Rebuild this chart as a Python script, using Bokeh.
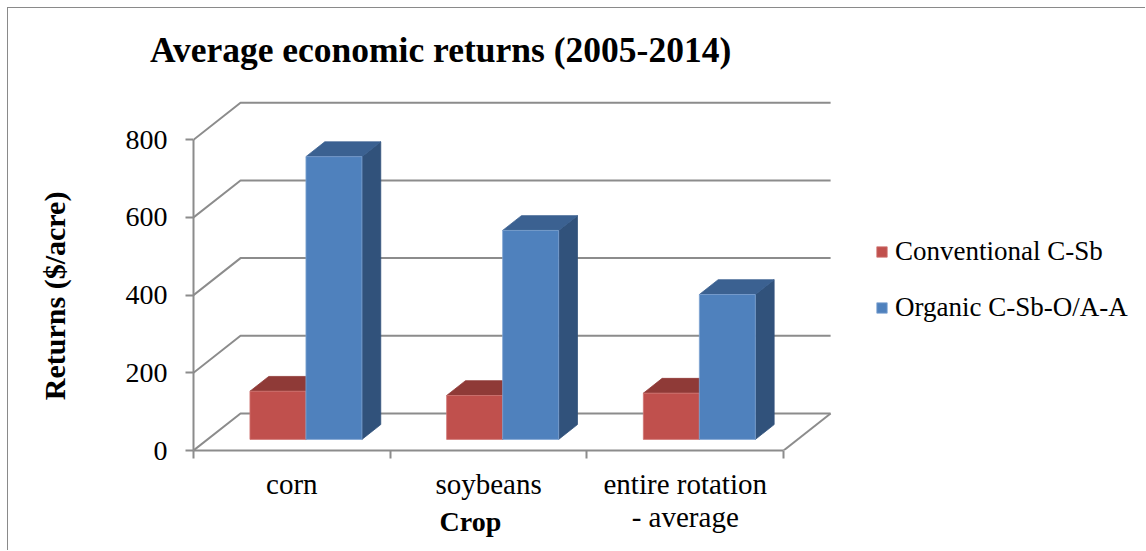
from bokeh.plotting import figure
from bokeh.models import Range1d, LinearAxis, FixedTicker, Legend, LegendItem
from bokeh.embed import file_html
from bokeh.resources import INLINE

# ---------------- data ----------------
categories = ["corn", "soybeans", "entire rotation\n- average"]
series_names = ["Conventional C-Sb", "Organic C-Sb-O/A-A"]
conventional = [124, 113, 119]
organic = [728, 538, 373]
y_ticks = [0, 200, 400, 600, 800]
title_text = "Average economic returns (2005-2014)"
y_title = "Returns ($/acre)"
x_title = "Crop"

# ---------------- style ----------------
FONT = "Liberation Serif"
GRID = "#8c8c8c"
FRONT = ["#c0504d", "#4f81bd"]
TOP = ["#8f3a37", "#3b6191"]
SIDE = ["#7d302e", "#31527b"]
EDGE = ["#d07673", "#7fa3d2"]

# oblique projection (depth offset in data units)
DX = 0.239
DY = 95.3
BW = 0.2847
D0, D1 = 0.3, 0.7
n = len(categories)

# anchor positions (data units) for the free-standing titles
TITLE_X = 1.256
XTITLE_X = 1.408
YTITLE_Y = 398

p = figure(width=1138, height=543,
           x_range=Range1d(0, 4.845), y_range=Range1d(0, 914),
           x_axis_type=None, y_axis_type=None,
           output_backend="svg", toolbar_location=None,
           min_border_left=185, min_border_right=0,
           min_border_top=87, min_border_bottom=101)
p.grid.visible = False
p.outline_line_color = None
p.background_fill_color = "white"
p.border_fill_color = "white"
p.title.visible = False
p.styles = {"margin-left": "7px", "margin-top": "7px",
            "border-left": "1px solid #8a8a8a", "border-top": "1px solid #8a8a8a"}

# back wall / side wall gridlines
gx, gy = [], []
for v in y_ticks:
    gx.append([0, DX, n + DX])
    gy.append([v, v + DY, v + DY])
gx.append([n, n + DX])
gy.append([0, DY])
p.multi_line(gx, gy, line_color=GRID, line_width=2)

# bars
ox0, oy0 = D0 * DX, D0 * DY
ox1, oy1 = D1 * DX, D1 * DY
fronts = []
for s, vals in enumerate([conventional, organic]):
    fx, fy, tx, ty, sx, sy = [], [], [], [], [], []
    for i, v in enumerate(vals):
        x0 = i + 0.5 - BW + s * BW
        x1 = x0 + BW
        fx.append([x0 + ox0, x1 + ox0, x1 + ox0, x0 + ox0])
        fy.append([oy0, oy0, v + oy0, v + oy0])
        tx.append([x0 + ox0, x1 + ox0, x1 + ox1, x0 + ox1])
        ty.append([v + oy0, v + oy0, v + oy1, v + oy1])
        sx.append([x1 + ox0, x1 + ox1, x1 + ox1, x1 + ox0])
        sy.append([oy0, oy1, v + oy1, v + oy0])
    p.patches(sx, sy, fill_color=SIDE[s], line_color=SIDE[s], line_width=0.8)
    p.patches(tx, ty, fill_color=TOP[s], line_color=TOP[s], line_width=0.8)
    r = p.patches(fx, fy, fill_color=FRONT[s], line_color=EDGE[s], line_width=0.8)
    fronts.append(r)


def text_axis(tick, label, size, standoff, orientation="horizontal"):
    return LinearAxis(ticker=FixedTicker(ticks=[tick]),
                      major_label_overrides={tick: label},
                      major_label_orientation=orientation,
                      axis_line_color=None, major_tick_line_color=None,
                      minor_tick_line_color=None, major_tick_out=0, major_tick_in=0,
                      minor_tick_out=0, minor_tick_in=0,
                      major_label_standoff=standoff, major_label_text_font=FONT,
                      major_label_text_font_size=size, major_label_text_font_style="bold",
                      major_label_text_color="black")


# axes
yaxis = LinearAxis(ticker=FixedTicker(ticks=y_ticks), bounds=(0, 800),
                   axis_line_color=GRID, axis_line_width=2,
                   major_tick_line_color=GRID, major_tick_line_width=2,
                   major_tick_out=8, major_tick_in=0, minor_tick_line_color=None,
                   major_label_standoff=18, major_label_text_font=FONT,
                   major_label_text_font_size="28px", major_label_text_color="black")
p.add_layout(yaxis, "left")
p.add_layout(text_axis(YTITLE_Y, y_title, "30px", 51, "vertical"), "left")

xaxis = LinearAxis(ticker=FixedTicker(ticks=[i + 0.5 for i in range(n)],
                                      minor_ticks=list(range(n + 1))),
                   major_label_overrides={i + 0.5: c for i, c in enumerate(categories)},
                   bounds=(0, n),
                   axis_line_color=GRID, axis_line_width=2,
                   major_tick_line_color=None, major_tick_out=0, major_tick_in=0,
                   minor_tick_line_color=GRID, minor_tick_line_width=2,
                   minor_tick_out=8, minor_tick_in=0,
                   major_label_standoff=9, major_label_text_font=FONT,
                   major_label_text_font_size="29px", major_label_text_line_height=1.05,
                   major_label_text_color="black")
p.add_layout(xaxis, "below")
p.add_layout(text_axis(XTITLE_X, x_title, "28px", -31), "below")

p.add_layout(text_axis(TITLE_X, title_text, "35.5px", 26), "above")

legend = Legend(items=[LegendItem(label=series_names[k], renderers=[fronts[k]]) for k in range(2)],
                location=(682, 127), glyph_width=13, glyph_height=13,
                label_text_font=FONT, label_text_font_size="27px", label_text_color="black",
                label_standoff=7, spacing=25, label_height=30,
                padding=0, margin=0, border_line_color=None, background_fill_alpha=0)
p.add_layout(legend, "center")

open("out.html", "w").write(file_html(p, INLINE))
